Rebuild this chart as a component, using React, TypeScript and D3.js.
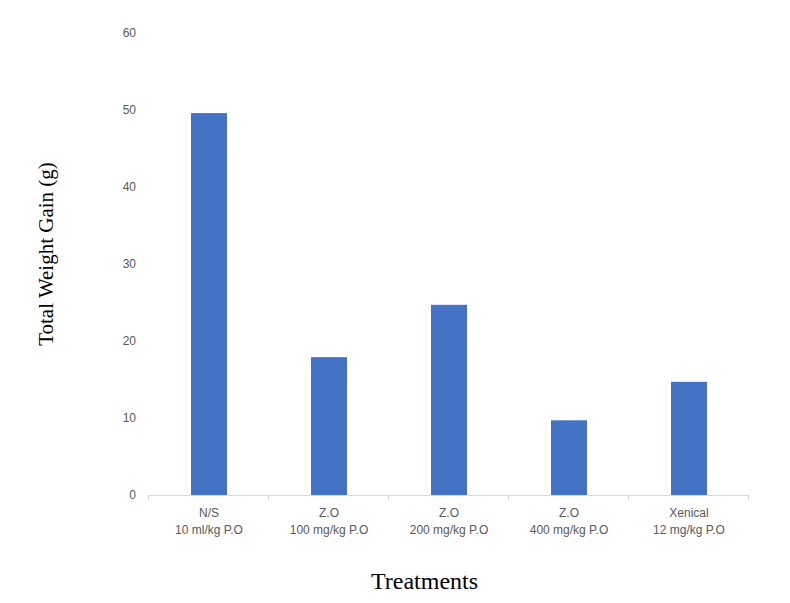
import React from "react";
import * as d3 from "d3";

const categories = ["N/S", "Z.O", "Z.O", "Z.O", "Xenical"];
const doses = ["10 ml/kg P.O", "100 mg/kg P.O", "200 mg/kg P.O", "400 mg/kg P.O", "12 mg/kg P.O"];
const values = [49.6, 17.9, 24.7, 9.7, 14.7];
const yTicks = [0, 10, 20, 30, 40, 50, 60];

export default function App() {
  const W = 790, H = 603;
  const left = 148, right = 748, top = 33, bottom = 495;
  const x = d3.scaleBand<number>().domain(d3.range(values.length)).range([left, right]).paddingInner(0).paddingOuter(0);
  const y = d3.scaleLinear().domain([0, 60]).range([bottom, top]);
  const bw = 36;
  const labelFont = "'Liberation Sans', Arial, sans-serif";
  const titleFont = "'Liberation Serif', 'Times New Roman', serif";
  return (
    <svg width={W} height={H} style={{ position: "absolute", left: 0, top: 0, background: "#fff" }}>
      <rect x={0} y={0} width={W} height={H} fill="#fff" />
      {values.map((v, i) => (
        <rect key={i} x={x(i)! + x.bandwidth() / 2 - bw / 2 + 1} y={y(v)} width={bw} height={bottom - y(v)} fill="#4472C4" />
      ))}
      <line x1={left} x2={right} y1={bottom + 0.5} y2={bottom + 0.5} stroke="#d9d9d9" strokeWidth={1} />
      {d3.range(values.length + 1).map((i) => {
        const xx = i < values.length ? x(i)! : right;
        return <line key={i} x1={xx + 0.5} x2={xx + 0.5} y1={bottom} y2={bottom + 5} stroke="#d9d9d9" strokeWidth={1} />;
      })}
      {yTicks.map((t) => (
        <text key={t} x={136} y={y(t)} dy="0.35em" textAnchor="end" fontFamily={labelFont} fontSize={12} fill="#595959">
          {t}
        </text>
      ))}
      {values.map((_, i) => (
        <g key={i}>
          <text x={x(i)! + x.bandwidth() / 2 + 1} y={513} dy="0.35em" textAnchor="middle" fontFamily={labelFont} fontSize={12} fill="#595959">
            {categories[i]}
          </text>
          <text x={x(i)! + x.bandwidth() / 2 + 1} y={530} dy="0.35em" textAnchor="middle" fontFamily={labelFont} fontSize={12} fill="#595959">
            {doses[i]}
          </text>
        </g>
      ))}
      <text x={424.5} y={589} textAnchor="middle" fontFamily={titleFont} fontSize={24} fill="#000">
        Treatments
      </text>
      <text transform={`translate(46,254) rotate(-90)`} dy="0.35em" textAnchor="middle" fontFamily={titleFont} fontSize={21} fill="#000">
        Total Weight Gain (g)
      </text>
    </svg>
  );
}
